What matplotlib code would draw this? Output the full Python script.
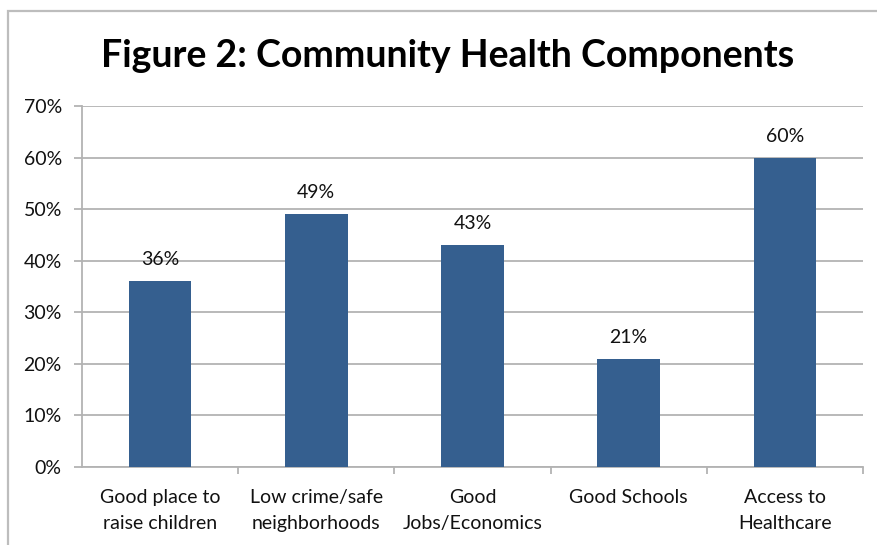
import matplotlib
matplotlib.use("Agg")
import matplotlib.pyplot as plt
from matplotlib.patches import Rectangle
from matplotlib.ticker import FixedLocator, PercentFormatter

categories = ["Good place to\nraise children", "Low crime/safe\nneighborhoods",
              "Good\nJobs/Economics", "Good Schools", "Access to\nHealthcare"]
values = [36, 49, 43, 21, 60]
y_ticks = [0, 10, 20, 30, 40, 50, 60, 70]
title = "Figure 2: Community Health Components"

W, H = 878, 545
fig = plt.figure(figsize=(W / 100, H / 100), dpi=100)
plt.rcParams["font.family"] = ["Lato", "DejaVu Sans"]

# chart frame
fig.patches.append(Rectangle((8 / W, -0.2), 1.2, (H - 11) / H + 0.2,
                             transform=fig.transFigure, fill=False,
                             edgecolor="#BDBDBD", linewidth=1.6))

ax = fig.add_axes([82 / W, (H - 467) / H, (863 - 82) / W, (467 - 106) / H])
x = list(range(len(categories)))
ax.bar(x, values, width=0.4, color="#355F8F", zorder=3)
ax.set_xlim(-0.5, len(categories) - 0.5)
ax.set_ylim(0, 70)

grid_c = "#B3B3B3"
text_c = "#111111"
ax.yaxis.set_major_locator(FixedLocator(y_ticks))
ax.yaxis.set_major_formatter(PercentFormatter(decimals=0))
ax.grid(axis="y", color=grid_c, linewidth=1.3, zorder=0)
ax.set_axisbelow(True)
for s in ["top", "right"]:
    ax.spines[s].set_visible(False)
for s in ["left", "bottom"]:
    ax.spines[s].set_color(grid_c)
    ax.spines[s].set_linewidth(1.3)

ax.set_xticks(x)
ax.set_xticklabels(categories, fontsize=14, color=text_c, linespacing=1.6)
ax.tick_params(axis="x", which="major", length=0, pad=16)
ax.set_xticks([i + 0.5 for i in range(len(categories))], minor=True)
ax.tick_params(axis="x", which="minor", length=5, width=1.3, color=grid_c)
ax.tick_params(axis="y", length=6, width=1.3, color=grid_c, pad=8.5,
               labelsize=14, labelcolor=text_c)

for xi, v in zip(x, values):
    ax.annotate(f"{v}%", (xi, v), xytext=(0, 11.5), textcoords="offset points",
                ha="center", va="baseline", fontsize=14, color=text_c)

fig.text(448 / W, 1 - 67 / H, title, ha="center", va="baseline",
         fontsize=27, fontweight="bold", color="#000000")

fig.savefig("out.png", dpi=100)
